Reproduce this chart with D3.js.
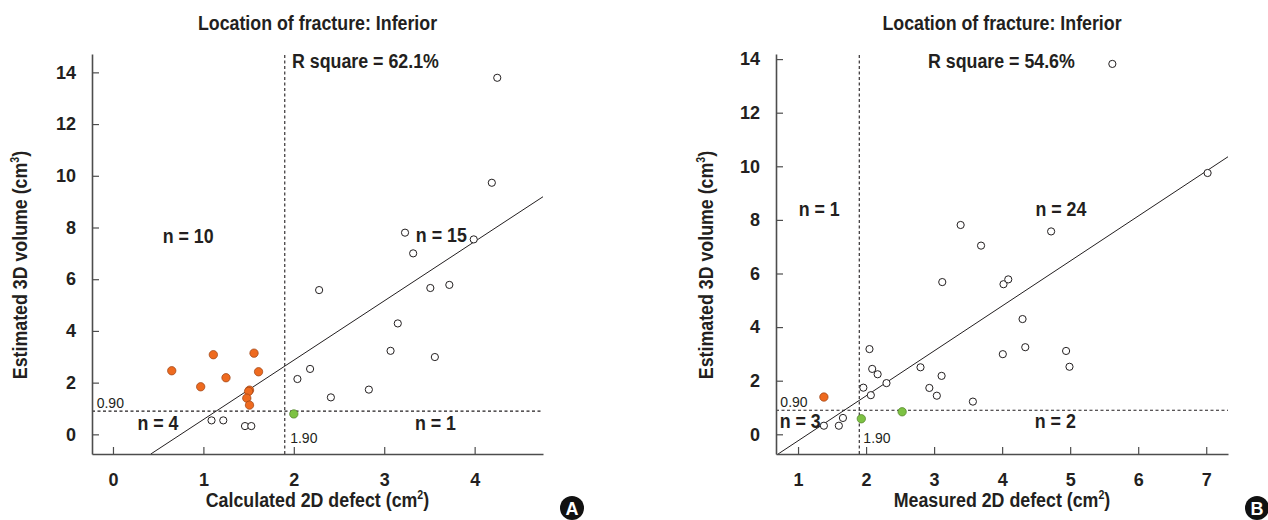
<!DOCTYPE html>
<html>
<head>
<meta charset="utf-8">
<script src="https://cdn.jsdelivr.net/npm/d3@7"></script>
<style>
  body { margin: 0; background: #fff; }
  svg { display: block; }
  text { font-family: "Liberation Sans", Arial, "DejaVu Sans Condensed", sans-serif; fill: #231f20; }
</style>
</head>
<body>
<svg id="chart" width="1268" height="520"></svg>
<script>
// ---- data ----
// A: calculated 2D defect (cm2) vs estimated 3D volume (cm3)
const calcOpen = [[4.25, 13.79], [4.19, 9.73], [3.23, 7.80], [3.99, 7.54], [3.32, 7.00],
    [2.28, 5.58], [3.51, 5.66], [3.72, 5.78], [3.15, 4.29], [3.07, 3.23], [3.56, 2.99],
    [2.18, 2.53], [2.04, 2.14], [2.41, 1.43], [2.83, 1.73],
    [1.09, 0.54], [1.22, 0.54], [1.46, 0.32], [1.53, 0.32]];
const calcOrange = [[0.65, 2.46], [0.97, 1.84], [1.11, 3.08], [1.25, 2.19], [1.56, 3.14],
    [1.61, 2.42], [1.51, 1.71], [1.50, 1.66], [1.48, 1.40], [1.51, 1.13]];
const calcGreen = [[2.00, 0.79]];
const calcFit = { slope: 2.294, intercept: -1.72 };

// B: measured 2D defect (cm2) vs estimated 3D volume (cm3)
const measOpen = [[5.62, 13.82], [7.02, 9.75], [3.39, 7.81], [4.72, 7.57], [3.69, 7.04],
    [3.12, 5.68], [4.02, 5.60], [4.09, 5.78], [4.30, 4.30], [4.34, 3.25], [4.01, 2.99],
    [4.94, 3.11], [4.99, 2.52], [2.05, 3.18], [2.09, 2.44], [2.17, 2.24], [2.30, 1.91],
    [1.96, 1.74], [2.07, 1.46], [2.80, 2.50], [2.93, 1.73], [3.04, 1.44], [3.11, 2.18],
    [3.57, 1.22], [1.38, 0.32], [1.60, 0.32], [1.66, 0.61]];
const measOrange = [[1.38, 1.39]];
const measGreen = [[1.93, 0.58], [2.53, 0.84]];
const measFit = { slope: 1.677, intercept: -1.92 };

const cutX = 1.90;
const cutY = 0.90;
const yTicks = [0, 2, 4, 6, 8, 10, 12, 14];
const calcTicks = [0, 1, 2, 3, 4];
const measTicks = [1, 2, 3, 4, 5, 6, 7];

const ORANGE = "#ee6a1f";
const GREEN = "#7dc243";
const INK = "#231f20";
const SQUEEZE = 0.89;   // the figure uses a condensed face

const svg = d3.select("#chart");

// bold, horizontally condensed text placed at (x, y)
function label(parent, x, y, str, anchor) {
    const t = parent.append("g")
        .attr("transform", "translate(" + x + "," + y + ") scale(" + SQUEEZE + ",1)")
        .append("text")
        .attr("text-anchor", anchor || "start")
        .attr("font-size", 20).attr("font-weight", "bold");
    if (str) t.text(str);
    return t;
}

function drawPanel(cfg) {
    const g = svg.append("g");
    const x = d3.scaleLinear().domain(cfg.xDomain).range(cfg.xRange);
    const y = d3.scaleLinear().domain(cfg.yDomain).range([454, 54]);

    // dashed cut-off lines
    g.append("line")
        .attr("x1", x(cutX)).attr("x2", x(cutX))
        .attr("y1", y.range()[0]).attr("y2", y.range()[1])
        .attr("stroke", INK).attr("stroke-width", 1.1).attr("stroke-dasharray", "3,2.5");
    g.append("line")
        .attr("x1", x.range()[0]).attr("x2", x.range()[1])
        .attr("y1", y(cutY)).attr("y2", y(cutY))
        .attr("stroke", INK).attr("stroke-width", 1.1).attr("stroke-dasharray", "3,2.5");

    // regression line, clipped to the axis box
    const f = cfg.fit;
    const x0 = Math.max(cfg.xDomain[0], (cfg.yDomain[0] - f.intercept) / f.slope);
    const x1 = Math.min(cfg.xDomain[1], (cfg.yDomain[1] - f.intercept) / f.slope);
    g.append("path")
        .datum([x0, x1])
        .attr("fill", "none").attr("stroke", INK).attr("stroke-width", 1)
        .attr("d", d3.line().x(d => x(d)).y(d => y(f.slope * d + f.intercept)));

    // axes, ticks pointing inward
    const yAxis = g.append("g")
        .attr("transform", "translate(" + x.range()[0] + ",0)")
        .call(d3.axisLeft(y).tickValues(yTicks).tickFormat(d3.format("d"))
            .tickSizeInner(-7).tickSizeOuter(0).tickPadding(16));
    const xAxis = g.append("g")
        .attr("transform", "translate(0," + y.range()[0] + ")")
        .call(d3.axisBottom(x).tickValues(cfg.xTicks).tickFormat(d3.format("d"))
            .tickSizeInner(-7).tickSizeOuter(0).tickPadding(19));
    [yAxis, xAxis].forEach(a => {
        a.select(".domain").attr("stroke", "#4d4d4d").attr("stroke-width", 1.6);
        a.selectAll(".tick line").attr("stroke", "#4d4d4d").attr("stroke-width", 1.2);
        a.selectAll(".tick text")
            .attr("font-size", 18).attr("font-weight", "bold")
            .attr("font-family", null).attr("fill", INK);
    });

    // points
    g.selectAll("circle.open").data(cfg.open).enter().append("circle")
        .attr("class", "open")
        .attr("cx", d => x(d[0])).attr("cy", d => y(d[1])).attr("r", 3.6)
        .attr("fill", "#fff").attr("stroke", INK).attr("stroke-width", 1);
    g.selectAll("circle.orange").data(cfg.orange).enter().append("circle")
        .attr("class", "orange")
        .attr("cx", d => x(d[0])).attr("cy", d => y(d[1])).attr("r", 4.2)
        .attr("fill", ORANGE).attr("stroke", "#9a4112").attr("stroke-width", 0.7);
    g.selectAll("circle.green").data(cfg.green).enter().append("circle")
        .attr("class", "green")
        .attr("cx", d => x(d[0])).attr("cy", d => y(d[1])).attr("r", 4.2)
        .attr("fill", GREEN).attr("stroke", "#4f7f25").attr("stroke-width", 0.7);

    // annotations
    cfg.notes.forEach(n => {
        if (n.small) {
            g.append("text")
                .attr("x", x(n.at[0])).attr("y", y(n.at[1]))
                .attr("font-size", 14)
                .text(n.text);
        } else {
            label(g, x(n.at[0]), y(n.at[1]), n.text);
        }
    });

    const cx = (x.range()[0] + x.range()[1]) / 2;
    label(g, cx, 30, "Location of fracture: Inferior", "middle");

    const xl = label(g, cx, 507, null, "middle");
    xl.append("tspan").text(cfg.xLabel + " (cm");
    xl.append("tspan").attr("font-size", 12).attr("dy", -8).text("2");
    xl.append("tspan").attr("dy", 8).text(")");

    const yl = g.append("g")
        .attr("transform", "translate(" + cfg.yLabelX + ",265) rotate(-90) scale(" + SQUEEZE + ",1)")
        .append("text")
        .attr("text-anchor", "middle").attr("font-size", 20).attr("font-weight", "bold");
    yl.append("tspan").text("Estimated 3D volume (cm");
    yl.append("tspan").attr("font-size", 12).attr("dy", -8).text("3");
    yl.append("tspan").attr("dy", 8).text(")");

    // panel letter
    svg.append("circle").attr("cx", cfg.badge).attr("cy", 508).attr("r", 12).attr("fill", "#111");
    svg.append("text")
        .attr("x", cfg.badge).attr("y", 514.5)
        .attr("text-anchor", "middle").attr("font-size", 18).attr("font-weight", "bold")
        .style("fill", "#fff")
        .text(cfg.letter);
}

drawPanel({
    xDomain: [-0.232, 4.756], xRange: [92, 543],
    yDomain: [-0.76, 14.71],
    xTicks: calcTicks,
    open: calcOpen, orange: calcOrange, green: calcGreen, fit: calcFit,
    xLabel: "Calculated 2D defect",
    yLabelX: 27,
    badge: 572, letter: "A",
    notes: [
        { text: "R square = 62.1%", at: [1.98, 14.17] },
        { text: "n = 10", at: [0.55, 7.40] },
        { text: "n = 15", at: [3.35, 7.44] },
        { text: "n = 4", at: [0.27, 0.17] },
        { text: "n = 1", at: [3.34, 0.17] },
        { text: "0.90", at: [-0.18, 1.02], small: true },
        { text: "1.90", at: [1.96, -0.32], small: true }
    ]
});

drawPanel({
    xDomain: [0.676, 7.32], xRange: [776, 1228],
    yDomain: [-0.735, 14.19],
    xTicks: measTicks,
    open: measOpen, orange: measOrange, green: measGreen, fit: measFit,
    xLabel: "Measured 2D defect",
    yLabelX: 713,
    badge: 1257, letter: "B",
    notes: [
        { text: "R square = 54.6%", at: [2.91, 13.67] },
        { text: "n = 1", at: [1.01, 8.15] },
        { text: "n = 24", at: [4.49, 8.15] },
        { text: "n = 3", at: [0.73, 0.24] },
        { text: "n = 2", at: [4.48, 0.24] },
        { text: "0.90", at: [0.74, 1.03], small: true },
        { text: "1.90", at: [1.96, -0.31], small: true }
    ]
});
</script>
</body>
</html>
